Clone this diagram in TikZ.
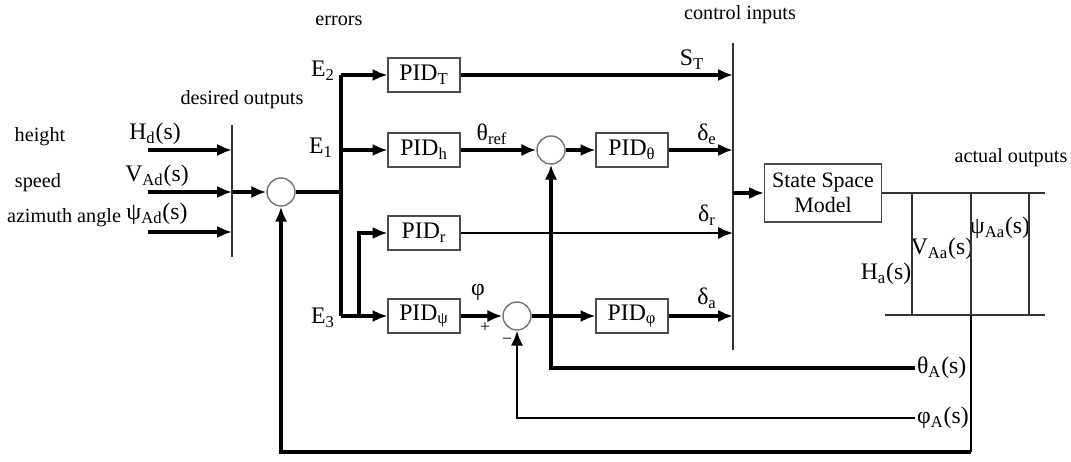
\documentclass[tikz,border=0pt]{standalone}
\usepackage{fontspec}
\setmainfont{Liberation Serif}
\usetikzlibrary{arrows.meta,calc}
\newcommand\sbs[1]{\textsubscript{#1}}
\begin{document}
\begin{tikzpicture}[x=0.02cm,y=-0.02cm,
  sig/.style={line width=1.8pt,-{Latex[length=8.5pt,width=7pt]}},
  sigthin/.style={line width=1.3pt,-{Latex[length=8.5pt,width=7pt]}},
  sigline/.style={line width=1.8pt},
  pid/.style={draw=black!70,line width=0.6pt,minimum width=1.44cm,minimum height=0.68cm,inner sep=1pt,font=\fontsize{13.5}{15}\selectfont},
  sumc/.style={circle,draw=black!55,line width=0.8pt,minimum size=0.56cm,inner sep=0pt},
  bar/.style={line width=0.8pt,draw=black!80},
  lbl/.style={font=\fontsize{11.5}{13}\selectfont,inner sep=1pt},
  sym/.style={font=\fontsize{13.5}{15}\selectfont,inner sep=1pt}
]
\useasboundingbox (0,0) rectangle (1071,462);

% blocks
\node[pid] (pidT) at (424,75) {PID\sbs{T}};
\node[pid] (pidh) at (424,150) {PID\sbs{h}};
\node[pid] (pidth) at (632,150) {PID\sbs{θ}};
\node[pid] (pidr) at (424,233) {PID\sbs{r}};
\node[pid] (pidpsi) at (424,316) {PID\sbs{ψ}};
\node[pid] (pidphi) at (632,316) {PID\sbs{φ}};
\node[sumc] (s1) at (281,192) {};
\node[sumc] (s2) at (551,150) {};
\node[sumc] (s3) at (517,316) {};
\node[draw=black!70,line width=0.6pt,minimum width=2.34cm,minimum height=1.16cm,align=center,font=\fontsize{12.5}{14.5}\selectfont] (ssm) at (823,193) {State Space\\Model};

% text labels
\node[lbl] (terr) at (339,21) {errors};
\node[lbl] (tdes) at (242,100) {desired outputs};
\node[lbl] (tci) at (740,15) {control inputs};
\node[lbl] (tao) at (1011,158) {actual outputs};
\node[lbl] (th) at (40,137) {height};
\node[lbl] (tsp) at (38,183) {speed};
\node[lbl] (taz) at (64,218) {azimuth angle};

\node[sym] (lHd) at (155,134) {H\sbs{d}(s)};
\node[sym] (lVAd) at (157,176) {V\sbs{Ad}(s)};
\node[sym] (lpAd) at (157,214) {ψ\sbs{Ad}(s)};
\node[sym] (lE2) at (323,71) {E\sbs{2}};
\node[sym] (lE1) at (321,148) {E\sbs{1}};
\node[sym] (lE3) at (323,318) {E\sbs{3}};
\node[sym] (lST) at (692,60) {S\sbs{T}};
\node[sym] (lde) at (707,134) {δ\sbs{e}};
\node[sym] (ldr) at (707,215) {δ\sbs{r}};
\node[sym] (lda) at (707,298) {δ\sbs{a}};
\node[sym] (lthr) at (492,134) {θ\sbs{ref}};
\node[sym] (lphi) at (478,292) {φ};
\node[font=\fontsize{10}{11}\selectfont,inner sep=0pt] (lplus) at (485,328) {+};
\node[font=\fontsize{10}{11}\selectfont,inner sep=0pt] (lminus) at (507,341) {−};
\node[sym] (lHa) at (886,274) {H\sbs{a}(s)};
\node[sym] (lVAa) at (942,249) {V\sbs{Aa}(s)};
\node[sym] (lpAa) at (1000,228) {ψ\sbs{Aa}(s)};
\node[sym,anchor=west] (lthA) at (915,368) {θ\sbs{A}(s)};
\node[sym,anchor=west] (lphA) at (915,418) {φ\sbs{A}(s)};

% desired outputs bar
\coordinate (d1) at (232,125);
\coordinate (d2) at (232,257);
\draw[bar] (d1) -- (d2);
\coordinate (hin) at (148,150);
\coordinate (vin) at (148,192);
\coordinate (pin) at (148,232);
\draw[sig] (hin) -- (hin -| d1);
\draw[sig] (vin) -- (vin -| d1);
\draw[sig] (pin) -- (pin -| d1);
\draw[sig] (vin -| d1) -- (s1.west);

% error bus
\coordinate (e2) at (341,75);
\coordinate (e3) at (341,316);
\coordinate (br) at (359,316);
\draw[sigline] (s1.east) -- (s1.east -| e2);
\draw[sigline] (e2) -- (e3);
\draw[sig] (e2) -- (pidT.west);
\draw[sig] (e2 |- pidh) -- (pidh.west);
\draw[sig] (e3) -- (pidpsi.west);
\draw[sig] (br) |- (pidr.west);

% control inputs bar
\coordinate (c1) at (733,43);
\coordinate (c2) at (733,350);
\draw[bar] (c1) -- (c2);
\draw[sig] (pidT.east) -- (pidT.east -| c1);
\draw[sig] (pidh.east) -- (s2.west);
\draw[sig] (s2.east) -- (pidth.west);
\draw[sig] (pidth.east) -- (pidth.east -| c1);
\draw[sigthin] (pidr.east) -- (pidr.east -| c1);
\draw[sig] (pidpsi.east) -- (s3.west);
\draw[sig] (s3.east) -- (pidphi.west);
\draw[sig] (pidphi.east) -- (pidphi.east -| c1);
\draw[sig] (c1 |- ssm) -- (ssm.west);

% actual outputs
\coordinate (o1) at (1045,193);
\coordinate (o2) at (885,315);
\coordinate (o3) at (1045,315);
\draw[bar] (ssm.east) -- (o1);
\draw[bar] (o2) -- (o3);
\draw[bar] (912,193) -- (912,315);
\draw[bar] (971,193) -- (971,315);
\draw[bar] (1029,193) -- (1029,315);

% feedback
\coordinate (fb) at (971,315);
\coordinate (fbc) at (971,452);
\draw[line width=1.3pt] (fb) -- (fbc);
\draw[sig] (fbc) -| (s1.south);
\draw[sig] (lthA.west) -| (s2.south);
\draw[sigthin] (lphA.west) -| (s3.south);
\end{tikzpicture}
\end{document}
